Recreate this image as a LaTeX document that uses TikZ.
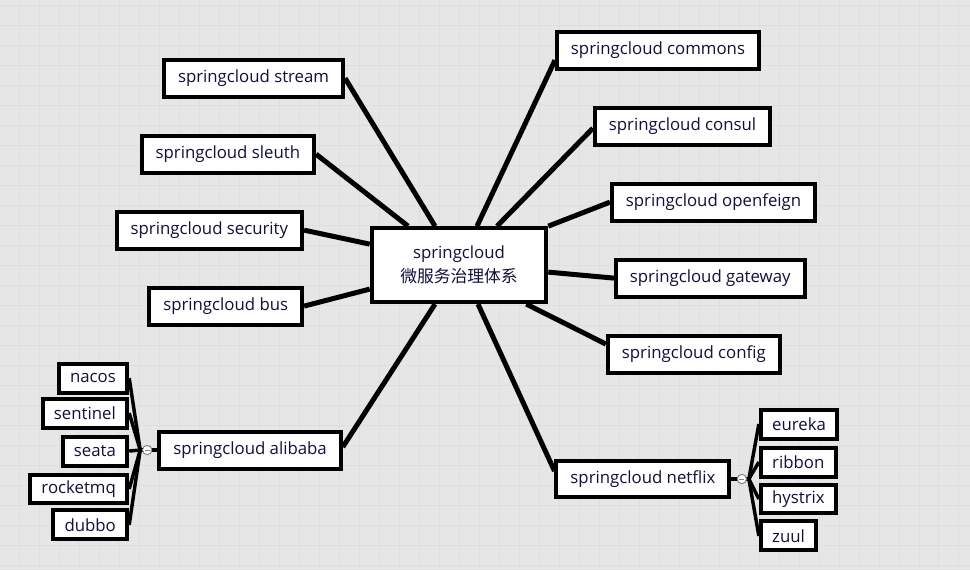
\documentclass[tikz,border=0pt]{standalone}
\usepackage{fontspec}
\setmainfont{Open Sans}
\newfontfamily\cjk{Noto Sans CJK SC}
\usetikzlibrary{calc}
\definecolor{bgcolor}{HTML}{E6E6E6}
\definecolor{gridcolor}{HTML}{DEDEDE}
\definecolor{textblue}{HTML}{10103A}
\begin{document}
\begin{tikzpicture}[x=0.75pt,y=-0.75pt,
box/.style={draw=black, fill=white, line width=3pt, inner xsep=10.5pt, minimum height=27.75pt, text=textblue, font=\fontsize{12.6}{14}\selectfont},
subbox/.style={box, minimum height=21.75pt, inner xsep=8.5pt},
rootbox/.style={box, minimum width=131pt, minimum height=55.5pt, align=center, font=\fontsize{12.6}{18}\selectfont},
leftnode/.style={box, anchor=east},
rightnode/.style={box, anchor=west},
link/.style={line width=3.75pt},
sublink/.style={line width=2.6pt},
knob/.style={circle, draw=gray, fill=white, line width=0.7pt, inner sep=0pt, minimum size=7pt,
  path picture={\draw[gray, line width=0.5pt] ([xshift=-1.8pt]path picture bounding box.center) -- ([xshift=1.8pt]path picture bounding box.center);}},
]
    % background
    \fill[bgcolor] (0,0) rectangle (970,570);
    \foreach \gx in {19,39,...,959} \draw[gridcolor, line width=0.4pt] (\gx,0) -- (\gx,570);
    \foreach \gy in {5,25,...,565} \draw[gridcolor, line width=0.4pt] (0,\gy) -- (970,\gy);

    \node[rootbox](root) at (459,265) {springcloud\\{\cjk 微服务治理体系}};

    \node[leftnode](stream) at (345,78) {springcloud stream};
    \node[leftnode](sleuth) at (316,154) {springcloud sleuth};
    \node[leftnode](security) at (304,230) {springcloud security};
    \node[leftnode](bus) at (304,306) {springcloud bus};
    \node[box](alibaba) at (250,450) {springcloud alibaba};

    \node[rightnode](commons) at (555,50) {springcloud commons};
    \node[rightnode](consul) at (593,126) {springcloud consul};
    \node[rightnode](openfeign) at (610,202) {springcloud openfeign};
    \node[rightnode](gateway) at (614,278) {springcloud gateway};
    \node[rightnode](config) at (606,354) {springcloud config};
    \node[box](netflix) at (643,479) {springcloud netflix};

    \node[subbox, anchor=east](nacos) at (129,378) {nacos};
    \node[subbox, anchor=east](sentinel) at (129,413) {sentinel};
    \node[subbox, anchor=east](seata) at (129,451) {seata};
    \node[subbox, anchor=east](rocketmq) at (129,489) {rocketmq};
    \node[subbox, anchor=east](dubbo) at (129,525) {dubbo};

    \node[subbox, anchor=west](eureka) at (759,424) {eureka};
    \node[subbox, anchor=west](ribbon) at (759,462) {ribbon};
    \node[subbox, anchor=west](hystrix) at (759,499) {hystrix};
    \node[subbox, anchor=west](zuul) at (759,536) {zuul};

    % main branches
    \draw[link] (stream.east) -- ($(root.north)+(-24,0)$);
    \draw[link] (sleuth.east) -- ($(root.north)+(-51,0)$);
    \draw[link] (security.east) -- ($(root.west)+(0,-21)$);
    \draw[link] (bus.east) -- ($(root.west)+(0,24)$);
    \draw[link] ($(alibaba.east)+(0,-3)$) -- ($(root.south)+(-24,0)$);
    \draw[link] ($(commons.west)+(0,10)$) -- ($(root.north)+(18,0)$);
    \draw[link] ($(consul.west)+(0,2)$) -- ($(root.north)+(38,0)$);
    \draw[link] (openfeign.west) -- (root.north east);
    \draw[link] (gateway.west) -- ($(root.east)+(0,7)$);
    \draw[link] ($(config.west)+(0,-10)$) -- ($(root.south east)+(-22,0)$);
    \draw[link] ($(netflix.west)+(0,-8)$) -- ($(root.south)+(19,0)$);

    % sub branches
    \coordinate (alibabajoin) at (140,450);
    \foreach \child in {nacos,sentinel,seata,rocketmq,dubbo}
        \draw[sublink] (\child.east) -- (alibabajoin);
    \draw[sublink] (alibabajoin) -- (alibaba.west);
    \node[knob](alibabaknob) at (147,450) {};

    \coordinate (netflixjoin) at (749,479);
    \foreach \child in {eureka,ribbon,hystrix,zuul}
        \draw[sublink] (\child.west) -- (netflixjoin);
    \draw[sublink] (netflixjoin) -- (netflix.east);
    \node[knob](netflixknob) at (742,479) {};
\end{tikzpicture}
\end{document}
